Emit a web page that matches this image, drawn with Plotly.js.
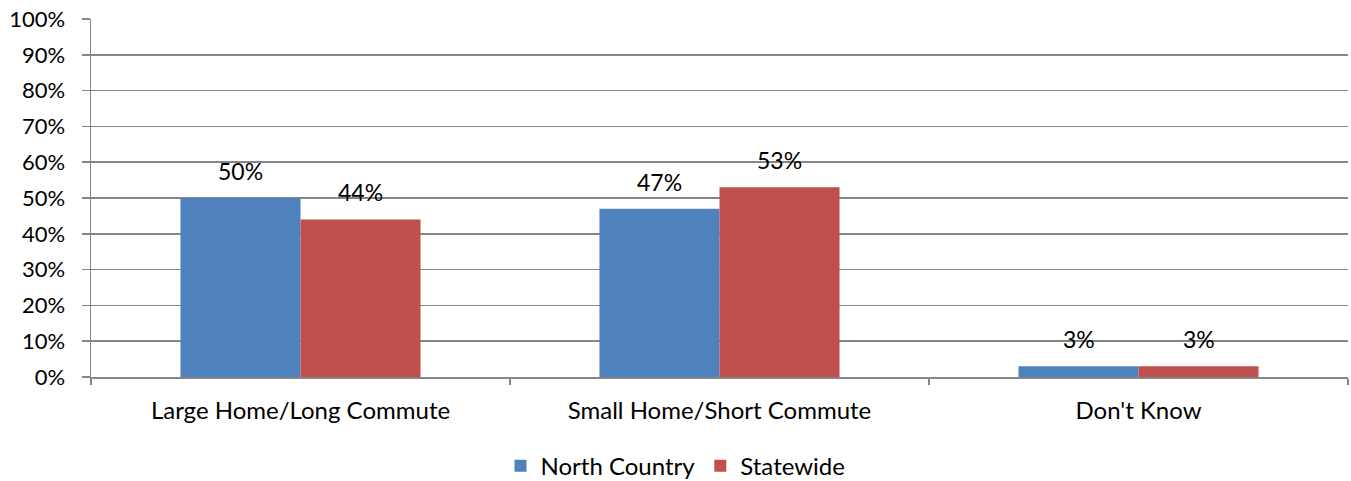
<!DOCTYPE html>
<html><head><meta charset="utf-8">
<script src="https://cdn.plot.ly/plotly-3.0.1.min.js"></script>
<style>body{margin:0;padding:0;background:#fff}#chart{width:1351px;height:481px}</style>
</head><body><div id="chart"></div>
<script>
const categories = ["Large Home/Long Commute", "Small Home/Short Commute", "Don't Know"];
const seriesNames = ["North Country", "Statewide"];
const northCountry = [50, 47, 3];
const statewide = [44, 53, 3];
const yTickVals = [0,10,20,30,40,50,60,70,80,90,100];
const yTickText = yTickVals.map(v => v + "%");

const FONT = "Lato, 'Open Sans', sans-serif";
const colors = ["#4F81BD", "#C0504D"];
const data = [
  {type:"bar", name:seriesNames[0], x:categories, y:northCountry, marker:{color:colors[0]}, hoverinfo:"none"},
  {type:"bar", name:seriesNames[1], x:categories, y:statewide, marker:{color:colors[1]}, hoverinfo:"none"}
];
const annotations = [];
[northCountry, statewide].forEach((vals, si) => {
  vals.forEach((v, i) => {
    annotations.push({x:categories[i], y:v, xref:"x", yref:"y", text:v + "%", showarrow:false,
      xshift: si === 0 ? -60 : 60, yshift: 27, font:{family:FONT, size:23, color:"#000"}});
  });
});
const layout = {
  width:1351, height:481,
  margin:{l:91, r:3, t:19, b:104, autoexpand:false},
  paper_bgcolor:"#fff", plot_bgcolor:"#fff",
  font:{family:FONT, size:22, color:"#000"},
  bargap:0.427, bargroupgap:0,
  showlegend:true,
  legend:{orientation:"h", x:0.5, xanchor:"center", xref:"container", y:-0.249, yanchor:"middle", yref:"paper", font:{family:FONT, size:24}, traceorder:"normal"},
  xaxis:{type:"category", automargin:false, tickangle:0, showline:true, linecolor:"#868686", linewidth:1.5, ticks:"outside", tickson:"boundaries", ticklen:6, tickcolor:"#868686", tickwidth:1.5, showgrid:false, tickfont:{family:FONT, size:24}, ticklabelstandoff:12},
  yaxis:{range:[0,100], automargin:false, tickvals:yTickVals, ticktext:yTickText, showline:true, linecolor:"#868686", linewidth:1.5, ticks:"outside", ticklen:8, tickcolor:"#868686", tickwidth:1.5, gridcolor:"#868686", gridwidth:1.5, zeroline:false, tickfont:{family:FONT, size:22}, ticklabelstandoff:12},
  annotations:annotations
};
Plotly.newPlot("chart", data, layout, {displayModeBar:false, staticPlot:true});
</script></body></html>
